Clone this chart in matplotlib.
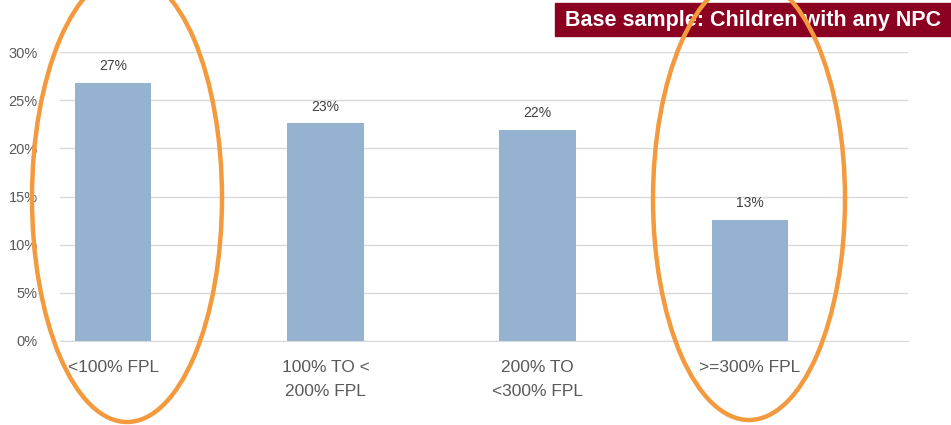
import matplotlib.pyplot as plt
from matplotlib.patches import Ellipse, Rectangle
from matplotlib.ticker import PercentFormatter

plt.rcParams['font.family'] = ['Liberation Sans', 'DejaVu Sans']

# data
categories = ['<100% FPL', '100% TO <\n200% FPL', '200% TO\n<300% FPL', '>=300% FPL']
values = [26.8, 22.6, 21.9, 12.6]
value_labels = ['27%', '23%', '22%', '13%']
y_ticks = [0, 5, 10, 15, 20, 25, 30]

grey = '#595959'
bar_color = '#95B3D0'

fig = plt.figure(figsize=(9.51, 4.25), dpi=100)
ax = fig.add_axes([60 / 951, 1 - 341 / 425, 848 / 951, 289 / 425])

x = range(len(categories))
bars = ax.bar(x, values, width=0.36, color=bar_color, zorder=2)
for b, lab in zip(bars, value_labels):
    ax.text(b.get_x() + b.get_width() / 2, b.get_height() + 1.0, lab,
            ha='center', va='bottom', fontsize=10, color='#404040')

# category centres sit left of the gridline centre in the original
ax.set_xlim(-0.25, 3.744)
ax.set_ylim(0, 30)
ax.set_yticks(y_ticks)
ax.yaxis.set_major_formatter(PercentFormatter(decimals=0))
ax.set_xticks(list(x))
ax.set_xticklabels(categories, fontsize=12.5, color=grey, linespacing=1.75)
ax.tick_params(axis='y', labelsize=10.5, labelcolor=grey, length=0, pad=16)
ax.tick_params(axis='x', length=0, pad=14)
ax.grid(axis='y', color='#D9D9D9', linewidth=1, zorder=0)
for s in ['top', 'right', 'left']:
    ax.spines[s].set_visible(False)
ax.spines['bottom'].set_color('#D9D9D9')

# overlay in pixel coordinates for the annotation box and circles
ov = fig.add_axes([0, 0, 1, 1])
ov.set_xlim(0, 951)
ov.set_ylim(425, 0)
ov.axis('off')
ov.patch.set_alpha(0)

ov.add_patch(Rectangle((555, 3), 400, 33, color='#8B0020', zorder=1))
ov.text(753, 20, 'Base sample: Children with any NPC', color='white',
        fontsize=15.5, fontweight='bold', ha='center', va='center', zorder=2)

ov.add_patch(Ellipse((127, 198), 190, 448, fill=False, edgecolor='#F39A3E',
                     linewidth=3.2, zorder=3))
ov.add_patch(Ellipse((749, 199), 192, 442, fill=False, edgecolor='#F39A3E',
                     linewidth=3.2, zorder=3))

fig.savefig('out.png', dpi=100)
